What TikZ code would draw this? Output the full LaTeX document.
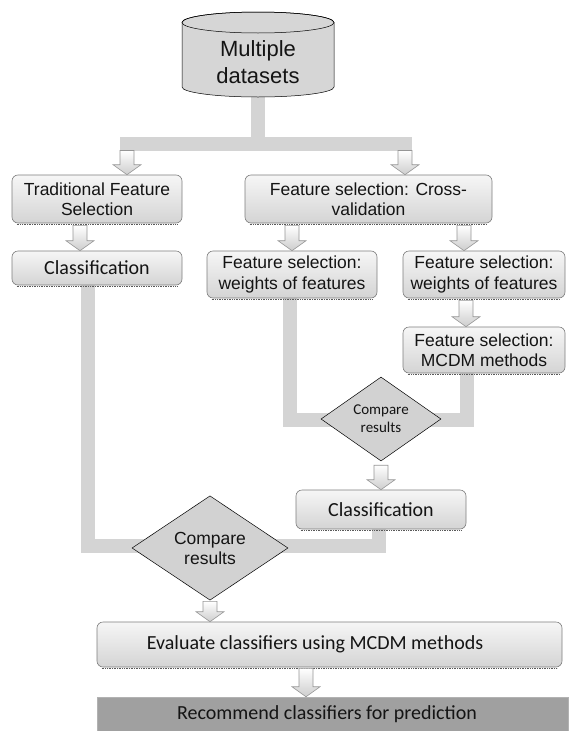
\documentclass[tikz,border=0pt]{standalone}
\usepackage{fontspec}
\setmainfont{Liberation Sans}
\newfontfamily\carl{Carlito}
\usetikzlibrary{shapes.geometric,calc,backgrounds}
\definecolor{barc}{RGB}{212,212,212}
\definecolor{boxtop}{RGB}{246,246,246}
\definecolor{boxbot}{RGB}{212,212,212}
\definecolor{boxline}{RGB}{125,125,125}
\definecolor{diaf}{RGB}{210,210,210}
\definecolor{cylf}{RGB}{214,214,214}
\definecolor{recf}{RGB}{160,160,160}
\definecolor{arrline}{RGB}{150,150,150}
\definecolor{arrbot}{RGB}{205,205,205}
\definecolor{txt}{RGB}{20,20,20}
\newcommand\blockarrow[2]{%
  \path[blockarr] let \p1=(#1), \p2=(#2) in
    (\x2-7pt,\y1) -- (\x2-7pt,\y2+10pt) -- (\x2-14pt,\y2+10pt) -- (\x2,\y2)
    -- (\x2+14pt,\y2+10pt) -- (\x2+7pt,\y2+10pt) -- (\x2+7pt,\y1) -- cycle;}
\begin{document}
\begin{tikzpicture}[x=1pt,y=-1pt,
  box/.style={draw=boxline, line width=0.6pt, rounded corners=6pt,
    top color=boxtop, bottom color=boxbot, inner sep=0pt, align=center,
    text=txt, font=\fontsize{17.5}{20.5}\selectfont},
  cbox/.style={box, font=\carl\fontsize{20}{24}\selectfont},
  dia/.style={diamond, draw=black, line width=0.5pt, fill=diaf, inner sep=0pt,
    align=center, text=txt},
  bar/.style={draw=barc, line width=14pt, line join=miter},
  blockarr/.style={draw=arrline, line width=0.6pt, top color=white, bottom color=arrbot},
  shadowline/.style={densely dotted, draw=black!65, line width=0.7pt}
]
\useasboundingbox (0,0) rectangle (568,731);

% cylinder
\coordinate (cylbot) at (258,97);
\filldraw[fill=cylf, draw=black, line width=0.5pt]
  (182,22.5) -- (182,87) arc[start angle=180, end angle=360, x radius=76pt, y radius=10pt]
  -- (334,22.5) arc[start angle=0, end angle=180, x radius=76pt, y radius=10.5pt] -- cycle;
\draw[black, line width=0.5pt] (258,22.5) ellipse[x radius=76pt, y radius=10.5pt];
\node[text=txt, align=center, font=\fontsize{22}{27}\selectfont] (cyl) at (258,62) {Multiple\\datasets};

% boxes
\node[box, minimum width=170pt, minimum height=48pt] (trad) at (97,199) {Traditional Feature\\Selection};
\node[cbox, minimum width=170pt, minimum height=34pt] (cls1) at (97,268) {Classification};
\node[box, minimum width=247pt, minimum height=48pt] (cv) at (368.5,199) {Feature selection: Cross-\\validation};
\node[box, minimum width=170pt, minimum height=47pt] (w1) at (292,274.5) {Feature selection:\\weights of features};
\node[box, minimum width=162pt, minimum height=47pt] (w2) at (484,274.5) {Feature selection:\\weights of features};
\node[box, minimum width=162pt, minimum height=46pt] (mcdm) at (484,350) {Feature selection:\\MCDM methods};
\node[dia, minimum width=120pt, minimum height=84pt, font=\carl\fontsize{15}{18}\selectfont] (dia1) at (381,419) {Compare\\results};
\node[cbox, minimum width=170pt, minimum height=39pt] (cls2) at (381,509.5) {Classification};
\node[dia, minimum width=156pt, minimum height=102pt, font=\fontsize{17.5}{20}\selectfont] (dia2) at (210,548) {Compare\\results};
\node[cbox, minimum width=465pt, minimum height=45pt] (eval) at (329.5,644.5) {Evaluate classifiers using MCDM methods\hspace*{29pt}};
\node[fill=recf, draw=black!30, line width=0.5pt, inner sep=0pt, minimum width=471pt, minimum height=34pt,
  text=txt, font=\carl\fontsize{20}{24}\selectfont] (rec) at (332.5,714) {Recommend classifiers for prediction\hspace*{11pt}};

% bottom shadow lines
\foreach \n in {trad,cls1,cv,w1,w2,mcdm,cls2,eval}
  \draw[shadowline] ([xshift=5pt,yshift=-0.6pt]\n.south west) -- ([xshift=-5pt,yshift=-0.6pt]\n.south east);

% thick gray connectors
\coordinate (busc) at (258,143.5);
\coordinate (busW) at (120,143.5);
\coordinate (busE) at (412,143.5);
\coordinate (j1) at (87.5,545.5);
\coordinate (j2) at (378.5,545.5);
\coordinate (j3) at (290,419.5);
\coordinate (j4) at (466.5,419.5);
\begin{pgfonlayer}{background}
\draw[bar] (cylbot) -- (busc);
\draw[bar] (busW) -- (busE);
\draw[bar] (cls1.south -| j1) -- (j1) -- (j2) -- (j2 |- cls2.south);
\draw[bar] (w1.south -| j3) -- (j3) -- (j4) -- (j4 |- mcdm.south);
\end{pgfonlayer}

% block arrows
\coordinate (busL) at (127,150.5);
\coordinate (busR) at (405,150.5);
\coordinate (a9) at (306,667);
\blockarrow{busL}{busL |- trad.north}
\blockarrow{busR}{busR |- cv.north}
\blockarrow{[yshift=-2pt]trad.south}{[xshift=-17pt]cls1.north}
\blockarrow{[yshift=-2pt]cv.south}{w1.north}
\blockarrow{[yshift=-2pt]cv.south}{[xshift=-20pt]w2.north}
\blockarrow{[yshift=-2pt]w2.south}{[xshift=-18pt]mcdm.north}
\blockarrow{[yshift=-4pt]dia1.south}{cls2.north}
\blockarrow{[yshift=-1pt]dia2.south}{dia2.south |- eval.north}
\blockarrow{[yshift=-1pt]eval.south}{a9 |- rec.north}
\end{tikzpicture}
\end{document}
